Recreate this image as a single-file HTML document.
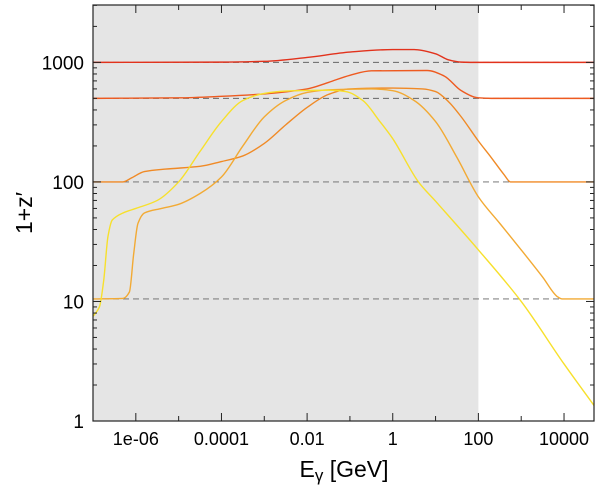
<!DOCTYPE html>
<html><head><meta charset="utf-8"><style>
body{margin:0;background:#fff;}
svg text{font-family:"Liberation Sans",sans-serif;}
</style></head><body>
<svg id="chart" width="600" height="491" xmlns="http://www.w3.org/2000/svg">
<rect x="0" y="0" width="600" height="491" fill="#fff"/>
<g id="plot"></g>
<text transform="translate(32,213) rotate(-90)" text-anchor="middle" font-size="23">1+z′</text>
<text x="344" y="477" text-anchor="middle" font-size="23">E<tspan font-size="17" dy="4">γ</tspan><tspan dy="-4"> [GeV]</tspan></text>
</svg>
<script>
const xTicks=[-6,-4,-2,0,2,4];
const xTickLabels=["1e-06","0.0001","0.01","1","100","10000"];
const yTicks=[0,1,2,3];
const yTickLabels=["1","10","100","1000"];
const baselines=[1000,500,100,10.5];
const shadeMaxE=2;
const seriesRed=[[-7,1000],[-4,1005],[-3,1020],[-2,1100],[-1,1220],[0,1280],[0.5,1280],[1,1180],[1.3,1050],[1.6,1005],[2,1000],[4.7,1000]];
const seriesOrangeRed=[[-7,500],[-5,505],[-4,520],[-3,545],[-2,600],[-1.5,680],[-1,780],[-0.5,850],[0.8,855],[1.2,770],[1.6,580],[2,505],[2.3,500],[4.7,500]];
const seriesOrange=[[-7,100],[-6.3,100],[-6.1,108],[-5.8,122],[-5.3,128],[-4.5,135],[-4,148],[-3.5,165],[-3,210],[-2.5,300],[-2,420],[-1.5,540],[-1,600],[0,610],[0.7,600],[1,570],[1.3,470],[1.6,350],[2,220],[2.3,160],[2.6,115],[2.75,100],[4.7,100]];
const seriesOrangeYellow=[[-7,10.5],[-6.3,10.6],[-6.15,12],[-6.05,25],[-5.95,45],[-5.8,55],[-5.4,60],[-5,65],[-4.5,80],[-4,110],[-3.5,200],[-3,350],[-2.5,480],[-2,560],[-1.5,590],[-0.5,600],[0,580],[0.5,480],[1,320],[1.5,160],[2,75],[2.5,45],[3,27],[3.5,16],[3.84,11],[3.95,10.5],[4.7,10.5]];
const seriesYellow=[[-7,7.5],[-6.85,9],[-6.75,15],[-6.65,35],[-6.55,48],[-6.3,55],[-6,60],[-5.5,70],[-5,100],[-4.5,180],[-4,320],[-3.5,480],[-3,550],[-2.5,575],[-1.5,585],[-1.1,570],[-0.7,480],[-0.3,320],[0,230],[0.6,100],[1,69],[2,27],[3,10],[4,3.0],[4.7,1.35]];
const colors=["#e2321c","#ee5a20","#f08a26","#f2aa34","#f7e02c"];

const L=93,R=594,T=5,B=421;
const xmin=-7,xmax=4.7,ymin=0,ymax=3.48;
const X=v=>L+(v-xmin)/(xmax-xmin)*(R-L);
const Y=v=>B-(Math.log10(v)-ymin)/(ymax-ymin)*(B-T);
const YL=l=>B-(l-ymin)/(ymax-ymin)*(B-T);
const g=document.getElementById('plot');
const NS="http://www.w3.org/2000/svg";
function mk(tag,attrs,parent){const e=document.createElementNS(NS,tag);for(const k in attrs)e.setAttribute(k,attrs[k]);(parent||g).appendChild(e);return e;}

const clip=mk('clipPath',{id:'cp'});mk('rect',{x:L,y:T,width:R-L,height:B-T},clip);
let e=mk('rect',{x:L,y:T,width:X(shadeMaxE)-L,height:B-T,fill:'#e5e5e5'});


baselines.forEach(b=>{const l=mk('line',{x1:L,x2:R,y1:Y(b),y2:Y(b),stroke:'#666','stroke-width':0.9,'stroke-dasharray':'6,4'});

});
function path(pts){const p=pts.map(d=>[X(d[0]),Y(d[1])]);const n=p.length;
const dl=[],m=[];for(let i=0;i<n-1;i++)dl.push((p[i+1][1]-p[i][1])/(p[i+1][0]-p[i][0]));
m[0]=dl[0];m[n-1]=dl[n-2];
for(let i=1;i<n-1;i++){m[i]=(dl[i-1]*dl[i]<=0)?0:2/(1/dl[i-1]+1/dl[i]);}
let s='M'+p[0][0]+','+p[0][1];
for(let i=0;i<n-1;i++){const h=(p[i+1][0]-p[i][0])/3;
s+=`C${p[i][0]+h},${p[i][1]+m[i]*h} ${p[i+1][0]-h},${p[i+1][1]-m[i+1]*h} ${p[i+1][0]},${p[i+1][1]}`;}return s;}
const all=[seriesRed,seriesOrangeRed,seriesOrange,seriesOrangeYellow,seriesYellow];
const names=['curve-z1000','curve-z500','curve-z100','curve-z10','curve-z7'];
all.forEach((s,i)=>{const p=mk('path',{d:path(s),fill:'none',stroke:colors[i],'stroke-width':1.4,'clip-path':'url(#cp)'});

});
for(let d=Math.ceil(xmin);d<=xmax;d++){const big=xTicks.includes(d);const len=big?8:5;
mk('line',{x1:X(d),x2:X(d),y1:B,y2:B-len,stroke:'#222'});mk('line',{x1:X(d),x2:X(d),y1:T,y2:T+len,stroke:'#222'});}
xTicks.forEach((t,i)=>{const tx=mk('text',{x:X(t),y:445,'text-anchor':'middle','font-size':18});tx.textContent=xTickLabels[i];

});
for(let d=0;d<4;d++)for(let m=1;m<10;m++){const l=d+Math.log10(m);if(l>ymax)break;const len=m==1?8:4;
mk('line',{x1:L,x2:L+len,y1:YL(l),y2:YL(l),stroke:'#222'});mk('line',{x1:R,x2:R-len,y1:YL(l),y2:YL(l),stroke:'#222'});}
yTicks.forEach((t,i)=>{const tx=mk('text',{x:84,y:YL(t)+7,'text-anchor':'end','font-size':19});tx.textContent=yTickLabels[i];

});
e=mk('rect',{x:L,y:T,width:R-L,height:B-T,fill:'none',stroke:'#222','stroke-width':1.2});


</script>
</body></html>
